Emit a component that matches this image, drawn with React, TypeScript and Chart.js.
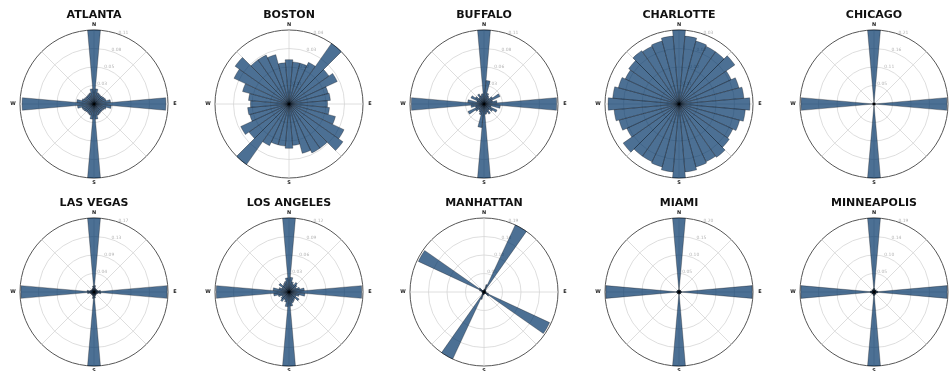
import React, { useEffect, useRef } from "react";
import { Chart, registerables } from "chart.js";

Chart.register(...registerables);

// Bearing bins (10° wide, centred on each label), clockwise from north
const BEARINGS = [
  "0°", "10°", "20°", "30°", "40°", "50°", "60°", "70°", "80°",
  "90°", "100°", "110°", "120°", "130°", "140°", "150°", "160°", "170°",
  "180°", "190°", "200°", "210°", "220°", "230°", "240°", "250°", "260°",
  "270°", "280°", "290°", "300°", "310°", "320°", "330°", "340°", "350°",
];

const COMPASS = ["N", "E", "S", "W"];

// Share of street segments per bearing bin
const ATLANTA = [
  0.107, 0.022, 0.017, 0.016, 0.015, 0.016, 0.017, 0.018, 0.024,
  0.104, 0.025, 0.018, 0.016, 0.015, 0.015, 0.016, 0.017, 0.022,
  0.107, 0.022, 0.017, 0.016, 0.015, 0.016, 0.017, 0.018, 0.024,
  0.104, 0.025, 0.018, 0.016, 0.015, 0.015, 0.016, 0.017, 0.022,
];
const BOSTON = [
  0.025, 0.0238, 0.0238, 0.0259, 0.0417, 0.0275, 0.03, 0.0229, 0.0234,
  0.0217, 0.0229, 0.0271, 0.0342, 0.0371, 0.0304, 0.0304, 0.0288, 0.0234,
  0.025, 0.0238, 0.0238, 0.0259, 0.0417, 0.0275, 0.03, 0.0229, 0.0234,
  0.0217, 0.0229, 0.0271, 0.0342, 0.0371, 0.0304, 0.0304, 0.0288, 0.0234,
];
const BUFFALO = [
  0.113, 0.036, 0.017, 0.0136, 0.0113, 0.0158, 0.027, 0.0136, 0.02,
  0.111, 0.025, 0.0113, 0.022, 0.016, 0.0113, 0.017, 0.0136, 0.0158,
  0.113, 0.036, 0.017, 0.0136, 0.0113, 0.0158, 0.027, 0.0136, 0.02,
  0.111, 0.025, 0.0113, 0.022, 0.016, 0.0113, 0.017, 0.0136, 0.0158,
];
const CHARLOTTE = [
  0.0317, 0.0292, 0.0279, 0.0273, 0.0273, 0.0292, 0.0247, 0.0266, 0.0279,
  0.0304, 0.0285, 0.0269, 0.0254, 0.0263, 0.0279, 0.0273, 0.0279, 0.0292,
  0.0317, 0.0292, 0.0279, 0.0273, 0.0273, 0.0292, 0.0247, 0.0266, 0.0279,
  0.0304, 0.0285, 0.0269, 0.0254, 0.0263, 0.0279, 0.0273, 0.0279, 0.0292,
];
const CHICAGO = [
  0.215, 0.004, 0.003, 0.003, 0.003, 0.003, 0.003, 0.003, 0.005,
  0.212, 0.005, 0.003, 0.003, 0.003, 0.003, 0.003, 0.003, 0.004,
  0.215, 0.004, 0.003, 0.003, 0.003, 0.003, 0.003, 0.003, 0.005,
  0.212, 0.005, 0.003, 0.003, 0.003, 0.003, 0.003, 0.003, 0.004,
];
const LAS_VEGAS = [
  0.17, 0.015, 0.009, 0.008, 0.007, 0.008, 0.008, 0.009, 0.015,
  0.168, 0.016, 0.009, 0.008, 0.007, 0.007, 0.008, 0.009, 0.014,
  0.17, 0.015, 0.009, 0.008, 0.007, 0.008, 0.008, 0.009, 0.015,
  0.168, 0.016, 0.009, 0.008, 0.007, 0.007, 0.008, 0.009, 0.014,
];
const LOS_ANGELES = [
  0.12, 0.024, 0.017, 0.014, 0.019, 0.016, 0.013, 0.018, 0.025,
  0.118, 0.026, 0.017, 0.013, 0.02, 0.014, 0.016, 0.018, 0.023,
  0.12, 0.024, 0.017, 0.014, 0.019, 0.016, 0.013, 0.018, 0.025,
  0.118, 0.026, 0.017, 0.013, 0.02, 0.014, 0.016, 0.018, 0.023,
];
const MANHATTAN = [
  0.006, 0.008, 0.02, 0.19, 0.008, 0.005, 0.004, 0.004, 0.005,
  0.006, 0.005, 0.012, 0.186, 0.015, 0.005, 0.004, 0.004, 0.005,
  0.006, 0.008, 0.02, 0.19, 0.008, 0.005, 0.004, 0.004, 0.005,
  0.006, 0.005, 0.012, 0.186, 0.015, 0.005, 0.004, 0.004, 0.005,
];
const MIAMI = [
  0.2, 0.006, 0.005, 0.005, 0.005, 0.006, 0.005, 0.005, 0.007,
  0.198, 0.007, 0.005, 0.005, 0.005, 0.006, 0.005, 0.005, 0.006,
  0.2, 0.006, 0.005, 0.005, 0.005, 0.006, 0.005, 0.005, 0.007,
  0.198, 0.007, 0.005, 0.005, 0.005, 0.006, 0.005, 0.005, 0.006,
];
const MINNEAPOLIS = [
  0.19, 0.009, 0.007, 0.006, 0.006, 0.007, 0.006, 0.007, 0.01,
  0.188, 0.01, 0.007, 0.006, 0.006, 0.006, 0.007, 0.007, 0.009,
  0.19, 0.009, 0.007, 0.006, 0.006, 0.007, 0.006, 0.007, 0.01,
  0.188, 0.01, 0.007, 0.006, 0.006, 0.006, 0.007, 0.007, 0.009,
];

const CITY_NAMES = [
  "ATLANTA", "BOSTON", "BUFFALO", "CHARLOTTE", "CHICAGO",
  "LAS VEGAS", "LOS ANGELES", "MANHATTAN", "MIAMI", "MINNEAPOLIS",
];
const CITY_DATA = [
  ATLANTA, BOSTON, BUFFALO, CHARLOTTE, CHICAGO,
  LAS_VEGAS, LOS_ANGELES, MANHATTAN, MIAMI, MINNEAPOLIS,
];

const COL_LEFT = [-1, 194, 389, 584, 779];
const ROW_TOP = [0, 188];
const ROW_HEIGHT = [187, 183];
const CANVAS_W = 190;

const decorPlugin = {
  id: "polarDecor",
  beforeDatasetsDraw(chart: any) {
    const r = chart.scales.r;
    const ctx = chart.ctx;
    const R = r.drawingArea;
    ctx.save();
    // angle grid lines every 45°
    ctx.strokeStyle = "#d6d6d6";
    ctx.lineWidth = 0.8;
    for (let k = 0; k < 8; k++) {
      const a = (k * Math.PI) / 4 - Math.PI / 2;
      ctx.beginPath();
      ctx.moveTo(r.xCenter, r.yCenter);
      ctx.lineTo(r.xCenter + R * Math.cos(a), r.yCenter + R * Math.sin(a));
      ctx.stroke();
    }
    // radial tick labels
    ctx.fillStyle = "#b4b4b4";
    ctx.font = "4.5px 'DejaVu Sans'";
    ctx.textAlign = "center";
    ctx.textBaseline = "middle";
    const ang = (22.5 * Math.PI) / 180;
    r.ticks.forEach((t: any, i: number) => {
      if (i === 0) return;
      const d = r.getDistanceFromCenterForValue(t.value) + 3;
      ctx.fillText(
        Number(t.value).toFixed(2),
        r.xCenter + d * Math.sin(ang),
        r.yCenter - d * Math.cos(ang)
      );
    });
    ctx.restore();
  },
  afterDraw(chart: any) {
    const r = chart.scales.r;
    const ctx = chart.ctx;
    const R = r.drawingArea;
    ctx.save();
    ctx.fillStyle = "#222";
    ctx.font = "bold 5px 'DejaVu Sans'";
    ctx.textAlign = "center";
    ctx.textBaseline = "middle";
    const offs = [
      [0, -(R + 5)],
      [R + 7, 0],
      [0, R + 5],
      [-(R + 7), 0],
    ];
    COMPASS.forEach((lab, i) => {
      ctx.fillText(lab, r.xCenter + offs[i][0], r.yCenter + offs[i][1]);
    });
    ctx.restore();
  },
};

function CityRose(props: { name: string; data: number[]; left: number; top: number; height: number }) {
  const ref = useRef<HTMLCanvasElement | null>(null);
  useEffect(() => {
    if (!ref.current) return;
    const maxVal = Math.max(...props.data);
    const chart = new Chart(ref.current, {
      type: "polarArea",
      data: {
        labels: BEARINGS,
        datasets: [
          {
            data: props.data,
            backgroundColor: "rgba(0,51,102,0.7)",
            borderColor: "rgba(0,0,0,0.55)",
            borderWidth: 0.5,
          },
        ],
      },
      options: {
        responsive: false,
        maintainAspectRatio: false,
        animation: false,
        devicePixelRatio: 1,
        layout: {
          padding: { left: 20.5, right: 20.5, top: 0, bottom: props.height - 179 },
        },
        plugins: {
          legend: { display: false },
          tooltip: { enabled: false },
          title: {
            display: true,
            text: props.name,
            color: "#111",
            font: { family: "'DejaVu Sans'", size: 11, weight: "bold", lineHeight: 1.2 },
            padding: { top: 8.4, bottom: 8.4 },
          },
        },
        scales: {
          r: {
            min: 0,
            max: maxVal,
            startAngle: -5,
            ticks: { display: false },
            afterBuildTicks: (scale: any) => {
              const m = scale.max;
              scale.ticks = [0, 1, 2, 3, 4].map((k) => ({ value: (m * k) / 4 }));
            },
            grid: {
              color: (c: any) => (c.index === 4 ? "#555" : "#d6d6d6"),
              lineWidth: (c: any) => (c.index === 4 ? 1 : 0.8),
            },
            angleLines: { display: false },
            pointLabels: { display: false },
          },
        },
      },
      plugins: [decorPlugin],
    } as any);
    return () => chart.destroy();
  }, [props.name, props.data, props.height]);
  return (
    <canvas
      ref={ref}
      width={CANVAS_W}
      height={props.height}
      style={{ position: "absolute", left: props.left, top: props.top, width: CANVAS_W, height: props.height }}
    />
  );
}

export default function App() {
  return (
    <div
      style={{
        position: "absolute",
        left: 0,
        top: 0,
        width: 951,
        height: 371,
        overflow: "hidden",
        background: "#fff",
      }}
    >
      {CITY_NAMES.map((name, i) => {
        const row = Math.floor(i / 5);
        const col = i % 5;
        return (
          <CityRose
            key={name}
            name={name}
            data={CITY_DATA[i]}
            left={COL_LEFT[col]}
            top={ROW_TOP[row]}
            height={ROW_HEIGHT[row]}
          />
        );
      })}
    </div>
  );
}
